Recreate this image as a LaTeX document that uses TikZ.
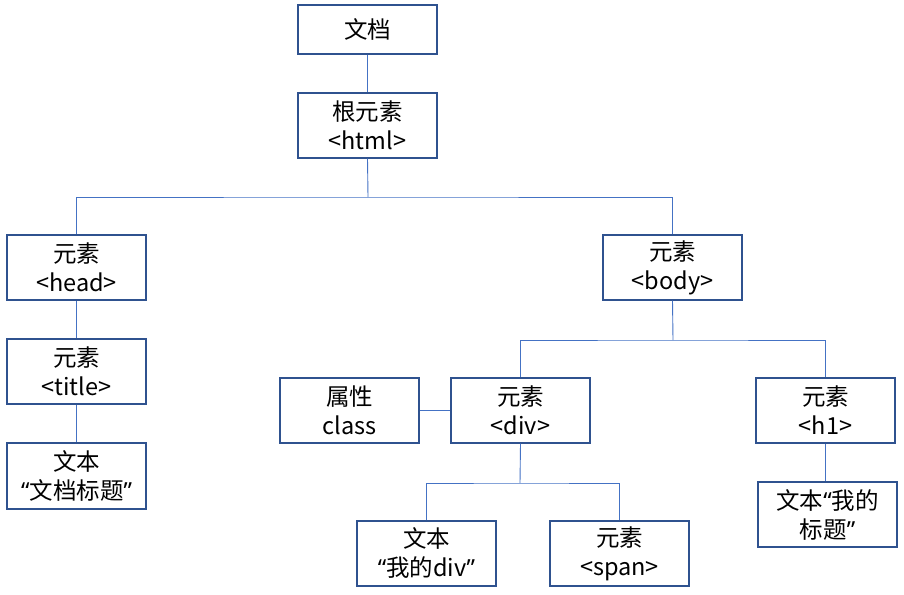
\documentclass[tikz,border=0pt]{standalone}
\usepackage{fontspec}
\setmainfont{Noto Sans CJK SC}
\newfontfamily\latq{Noto Sans}
\newcommand{\openq}{{\latq “}}
\newcommand{\closeq}{{\latq ”}}
\begin{document}
\begin{tikzpicture}[x=1pt,y=-1pt,
  box/.style={draw=boxblue,line width=1.1pt,minimum width=139pt,minimum height=65pt,
    inner sep=0pt,align=center,font=\fontsize{23.5}{29}\selectfont,fill=white},
  link/.style={draw=linkblue,line width=0.9pt}]
\definecolor{boxblue}{HTML}{2F528F}
\definecolor{linkblue}{HTML}{4472C4}
\useasboundingbox (0,0) rectangle (904,594);
% nodes
\node[box,minimum height=49pt] (doc) at (367.5,29.5) {文档};
\node[box] (root) at (367.5,125.5) {根元素\\<html>};
\node[box] (head) at (76.5,267.5) {元素\\<head>};
\node[box] (body) at (672.5,267.5) {元素\\<body>};
\node[box] (title) at (76.5,371.5) {元素\\<title>};
\node[box,minimum height=66pt] (ttext) at (76.5,476) {文本\\\openq 文档标题\closeq};
\node[box] (attr) at (349.5,410.5) {属性\\class};
\node[box] (div) at (520.5,410.5) {元素\\<div>};
\node[box] (h1) at (825.5,410.5) {元素\\<h1>};
\node[box] (dtext) at (426.5,553.5) {文本\\\openq 我的div\closeq};
\node[box] (span) at (619.5,553.5) {元素\\<span>};
\node[box] (htext) at (827.5,514.5) {文本\openq 我的\\标题\closeq};
% junction points
\coordinate (j1) at (368,197);
\coordinate (j2) at (673,340);
\coordinate (j3) at (520,483);
% connectors
\draw[link] (doc.south) -- (root.north);
\draw[link] (root.south) -- (j1);
\draw[link] (head.north) |- (j1) -| (body.north);
\draw[link] (head.south) -- (title.north);
\draw[link] (title.south) -- (ttext.north);
\draw[link] (body.south) -- (j2);
\draw[link] (div.north) |- (j2) -| (h1.north);
\draw[link] (attr.east) -- (div.west);
\draw[link] (div.south) -- (j3);
\draw[link] (dtext.north) |- (j3) -| (span.north);
\draw[link] (h1.south) -- (h1.south |- htext.north);
\end{tikzpicture}
\end{document}
